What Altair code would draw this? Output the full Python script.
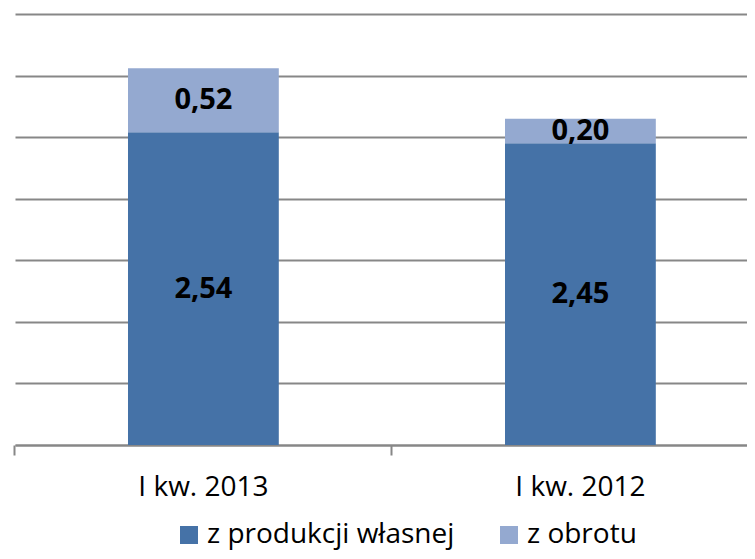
import altair as alt
import pandas as pd

categories = ["I kw. 2013", "I kw. 2012"]
series = ["z produkcji własnej", "z obrotu"]
own_production = [2.54, 2.45]
trade = [0.52, 0.20]
colors = ["#4572A7", "#94A9D0"]
y_ticks = [0, 0.5, 1, 1.5, 2, 2.5, 3, 3.5]

rows = []
for i, c in enumerate(categories):
    rows.append({"cat": c, "series": series[0], "value": own_production[i], "ord": 0})
    rows.append({"cat": c, "series": series[1], "value": trade[i], "ord": 1})
df = pd.DataFrame(rows)

grey = "#878787"
font = "Open Sans"

x = alt.X(
    "cat:N",
    sort=categories,
    title=None,
    scale=alt.Scale(paddingInner=0.6, paddingOuter=0.2708, align=0.5534),
    axis=alt.Axis(
        labelAngle=0,
        labelFont=font,
        labelFontSize=28,
        labelColor="#000000",
        domainColor=grey,
        domainWidth=2,
        tickColor=grey,
        tickWidth=2,
        tickSize=10,
        bandPosition=-0.75,
        labelPadding=18,
        grid=False,
    ),
)

base = alt.Chart(df)

bars = base.mark_bar().encode(
    x=x,
    y=alt.Y(
        "value:Q",
        stack="zero",
        title=None,
        scale=alt.Scale(domain=[0, 3.5], nice=False),
        axis=alt.Axis(
            values=y_ticks,
            labels=False,
            ticks=False,
            domain=False,
            gridColor=grey,
            gridWidth=2,
        ),
    ),
    color=alt.Color(
        "series:N",
        scale=alt.Scale(domain=series, range=colors),
        legend=alt.Legend(
            orient="none",
            legendX=160,
            legendY=507,
            direction="horizontal",
            title=None,
            symbolType="square",
            symbolSize=324,
            symbolStrokeWidth=0,
            symbolOpacity=1,
            labelFont=font,
            labelFontSize=28,
            labelColor="#000000",
            labelOffset=4,
            labelLimit=0,
            columnPadding=40,
            padding=0,
        ),
    ),
    order=alt.Order("ord:Q"),
)

labels = (
    base.transform_stack(
        stack="value",
        groupby=["cat"],
        as_=["v0", "v1"],
        sort=[alt.SortField("ord")],
    )
    .transform_calculate(
        mid="(datum.v0 + datum.v1) / 2",
        txt="replace(format(datum.value, '.2f'), '.', ',')",
    )
    .mark_text(font=font, fontSize=29, fontWeight="bold", color="#000000", baseline="middle")
    .encode(x=x, y=alt.Y("mid:Q"), text="txt:N")
)

chart = (
    alt.layer(bars, labels)
    .properties(
        width=732,
        height=431,
        padding={"left": 7, "top": 6, "right": 0, "bottom": 106},
        autosize=alt.AutoSizeParams(type="none"),
    )
    .configure_view(stroke=None)
)

chart.save("out.html", embed_options={"renderer": "svg", "actions": False})
